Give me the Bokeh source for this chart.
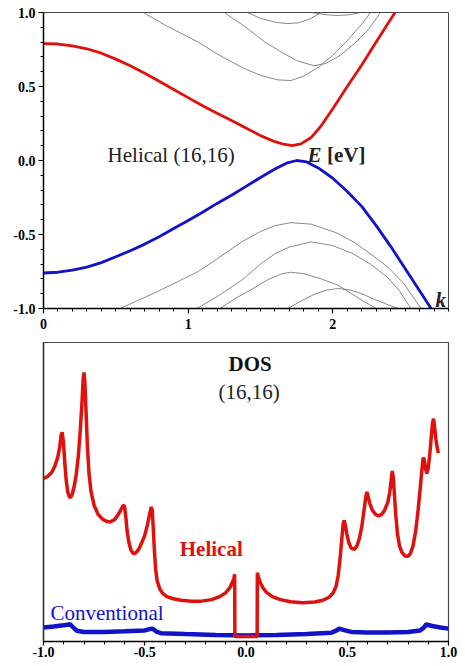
from bokeh.plotting import figure
from bokeh.layouts import column
from bokeh.models import FixedTicker, NumeralTickFormatter, Range1d, Label
from bokeh.embed import file_html
from bokeh.resources import INLINE

# ---------------- Band structure (top panel) ----------------
red_k = [0.0, 0.1, 0.2, 0.3, 0.4, 0.5, 0.6, 0.7, 0.8, 0.9, 1.0, 1.1, 1.2, 1.3, 1.4, 1.5,
         1.6, 1.66, 1.72, 1.78, 1.85, 1.92, 2.0, 2.1, 2.2, 2.3, 2.43]
red_E = [0.79, 0.787, 0.775, 0.755, 0.725, 0.685, 0.64, 0.59, 0.535, 0.48, 0.425, 0.37, 0.32,
         0.27, 0.22, 0.168, 0.127, 0.11, 0.10, 0.112, 0.155, 0.235, 0.35, 0.50, 0.645, 0.80, 1.0]

blue_k = [0.0, 0.1, 0.2, 0.3, 0.4, 0.5, 0.6, 0.7, 0.8, 0.9, 1.0, 1.1, 1.2, 1.3, 1.4, 1.5,
          1.6, 1.68, 1.75, 1.82, 1.9, 2.0, 2.1, 2.2, 2.3, 2.4, 2.5, 2.6, 2.68]
blue_E = [-0.76, -0.755, -0.74, -0.72, -0.69, -0.65, -0.61, -0.565, -0.515, -0.46, -0.405,
          -0.35, -0.29, -0.235, -0.175, -0.115, -0.058, -0.018, 0.0, -0.01, -0.05, -0.12,
          -0.21, -0.31, -0.44, -0.58, -0.73, -0.88, -1.0]

grayA_k = [0.69, 0.85, 1.07, 1.2, 1.37, 1.5, 1.62, 1.71, 1.8, 1.9, 2.0, 2.1, 2.2, 2.26]
grayA_E = [1.0, 0.91, 0.80, 0.72, 0.63, 0.575, 0.545, 0.54, 0.57, 0.63, 0.71, 0.81, 0.92, 1.0]
grayB_k = [1.25, 1.40, 1.53, 1.65, 1.75, 1.87, 1.95, 2.05, 2.15, 2.25, 2.33]
grayB_E = [1.0, 0.90, 0.80, 0.73, 0.675, 0.64, 0.655, 0.71, 0.79, 0.89, 1.0]
grayC_k = [1.41, 1.50, 1.60, 1.68, 1.76, 1.84, 1.92]
grayC_E = [1.0, 0.96, 0.935, 0.925, 0.93, 0.955, 1.0]
grayD_k = [1.85, 1.95, 2.03, 2.12, 2.19]
grayD_E = [1.0, 0.985, 0.98, 0.985, 1.0]

grayL1_k = [0.53, 0.8, 1.07, 1.2, 1.37, 1.5, 1.6, 1.71, 1.85, 2.03, 2.15, 2.26, 2.38, 2.49, 2.61]
grayL1_E = [-1.0, -0.88, -0.75, -0.665, -0.55, -0.48, -0.44, -0.42, -0.43, -0.49, -0.555,
            -0.63, -0.72, -0.83, -1.0]
grayL2_k = [1.06, 1.2, 1.37, 1.5, 1.6, 1.7, 1.85, 2.0, 2.14, 2.26, 2.38, 2.46, 2.54]
grayL2_E = [-1.0, -0.92, -0.81, -0.70, -0.63, -0.585, -0.55, -0.575, -0.63, -0.70, -0.79,
            -0.88, -1.0]
grayL3_k = [1.22, 1.33, 1.44, 1.55, 1.65, 1.71, 1.80, 1.92, 2.03, 2.13, 2.21, 2.30]
grayL3_E = [-1.0, -0.93, -0.87, -0.805, -0.765, -0.755, -0.765, -0.80, -0.84, -0.90, -0.95, -1.0]
grayL4_k = [1.69, 1.78, 1.87, 1.96, 2.04, 2.12, 2.2, 2.28, 2.37, 2.45]
grayL4_E = [-1.0, -0.95, -0.905, -0.875, -0.865, -0.875, -0.90, -0.935, -0.97, -1.0]

# ---------------- DOS (bottom panel) ----------------
hel_E = [-1.0, -0.98, -0.96, -0.945, -0.93, -0.92, -0.913, -0.908, -0.902, -0.895, -0.888,
         -0.88, -0.872, -0.865, -0.857, -0.848, -0.838, -0.828, -0.818, -0.81, -0.804, -0.80,
         -0.796, -0.79, -0.783, -0.775, -0.765, -0.75, -0.73, -0.71, -0.69, -0.67, -0.65,
         -0.635, -0.62, -0.607, -0.60, -0.594, -0.587, -0.578, -0.568, -0.556, -0.545, -0.53,
         -0.515, -0.50, -0.487, -0.476, -0.468, -0.463, -0.458, -0.452, -0.446, -0.438, -0.425,
         -0.41, -0.39, -0.36, -0.32, -0.27, -0.22, -0.17, -0.13, -0.10, -0.08, -0.068, -0.06,
         -0.056, -0.055, 0.055, 0.056, 0.062, 0.072, 0.085, 0.10, 0.13, 0.17, 0.22, 0.28, 0.34,
         0.38, 0.41, 0.43, 0.445, 0.455, 0.465, 0.474, 0.48, 0.485, 0.49, 0.498, 0.508, 0.52,
         0.535, 0.548, 0.56, 0.572, 0.583, 0.592, 0.597, 0.603, 0.612, 0.625, 0.64, 0.655, 0.67,
         0.685, 0.70, 0.71, 0.717, 0.722, 0.727, 0.733, 0.74, 0.748, 0.758, 0.77, 0.785, 0.80,
         0.812, 0.825, 0.838, 0.85, 0.86, 0.868, 0.875, 0.88, 0.886, 0.893, 0.90, 0.908, 0.915,
         0.921, 0.926, 0.931, 0.938, 0.945, 0.95]
hel_D = [54.5, 55.2, 56.5, 58.5, 61.5, 65, 69, 70, 67, 60, 54,
         50, 48.3, 48.2, 49.5, 52, 56, 62, 71, 80, 88, 90,
         87, 77, 65, 56, 50, 45.5, 42.5, 41, 40.2, 40, 40.7,
         42, 43.8, 45.5, 45.3, 42, 37, 33, 30.5, 29.4, 29.6, 30.8,
         33, 35.5, 39, 42.5, 45, 44, 38, 30, 24, 20, 17.5,
         16, 15, 14.3, 13.8, 13.5, 13.5, 14, 15, 16.3, 18, 19.7, 21,
         22.5, 1.7, 1.7, 23, 21.5, 19.5, 17.8, 16.5, 15, 14, 13.3, 13, 13.2,
         13.8, 14.8, 16.2, 18.5, 22, 28, 35, 39.5, 40.5, 39, 36, 33, 31.2,
         30.8, 32, 34.5, 38.5, 44, 48.5, 50, 48.5, 46, 43.8, 42.5, 42, 42.5,
         44, 46.5, 50, 54, 57, 55, 49, 42, 36, 32, 29.8, 28.6, 28.5,
         29.5, 32, 37, 44, 51, 57, 61.5, 61, 58, 56.2, 58, 63, 68.5,
         73, 74.5, 72, 67.5, 64.5, 63]

conv_E = [-1.0, -0.95, -0.90, -0.87, -0.855, -0.835, -0.80, -0.70, -0.60, -0.50, -0.465, -0.455,
          -0.44, -0.42, -0.30, -0.15, 0.0, 0.15, 0.30, 0.42, 0.45, 0.46, 0.48, 0.52, 0.60, 0.70,
          0.80, 0.86, 0.88, 0.89, 0.92, 0.96, 1.0]
conv_D = [4.7, 5.0, 5.4, 5.8, 4.8, 3.6, 3.2, 3.2, 3.4, 3.7, 4.3, 4.0,
          3.2, 2.8, 2.5, 2.2, 2.0, 2.2, 2.5, 2.9, 3.8, 4.3, 3.9, 3.2, 3.0, 3.0,
          3.2, 3.7, 4.8, 5.7, 5.2, 4.7, 4.3]

top_xticks = [0, 1, 2]
top_yticks = [-1.0, -0.5, 0.0, 0.5, 1.0]
bot_xticks = [-1.0, -0.5, 0.0, 0.5, 1.0]

SERIF = "Liberation Serif"
RED = "#e0100c"
BLUE = "#1212c8"


def style_axis(ax):
    ax.axis_line_width = 1.5
    ax.axis_line_color = "black"
    ax.major_tick_out = 5
    ax.major_tick_in = 0
    ax.minor_tick_out = 3
    ax.minor_tick_in = 0
    ax.major_tick_line_width = 1.2
    ax.minor_tick_line_width = 1
    ax.major_label_text_font = SERIF
    ax.major_label_text_font_style = "bold"
    ax.major_label_text_font_size = "14px"
    ax.major_label_text_color = "black"


# ---------- top figure ----------
p1 = figure(width=463, height=342, x_range=Range1d(0, 2.8), y_range=Range1d(-1, 1),
            output_backend="svg", toolbar_location=None,
            min_border_left=43, min_border_right=15, min_border_top=12, min_border_bottom=34)
p1.grid.visible = False
p1.outline_line_color = "#444444"
p1.outline_line_width = 1

p1.xaxis.ticker = FixedTicker(ticks=top_xticks, minor_ticks=[i / 10 for i in range(0, 29)])
p1.yaxis.ticker = FixedTicker(ticks=top_yticks, minor_ticks=[i / 10 for i in range(-10, 11)])
p1.yaxis.formatter = NumeralTickFormatter(format="0.0")
style_axis(p1.xaxis[0])
style_axis(p1.yaxis[0])
p1.xaxis.major_label_standoff = 5
p1.yaxis.major_label_standoff = 3

for kk, ee in [(grayA_k, grayA_E), (grayB_k, grayB_E), (grayC_k, grayC_E), (grayD_k, grayD_E),
               (grayL1_k, grayL1_E), (grayL2_k, grayL2_E), (grayL3_k, grayL3_E),
               (grayL4_k, grayL4_E)]:
    p1.line(kk, ee, line_color="#7a7a7a", line_width=0.9)

p1.line(red_k, red_E, line_color=RED, line_width=2.8)
p1.line(blue_k, blue_E, line_color=BLUE, line_width=2.8)

p1.add_layout(Label(x=0.443, y=0.034, text="Helical (16,16)", text_font=SERIF,
                    text_font_size="21px", text_baseline="alphabetic", text_color="#222222"))
p1.add_layout(Label(x=1.826, y=0.034, text="E", text_font=SERIF, text_font_style="bold italic",
                    text_font_size="21px", text_baseline="alphabetic", text_color="#222222"))
p1.add_layout(Label(x=1.96, y=0.034, text="[eV]", text_font=SERIF, text_font_style="bold",
                    text_font_size="21px", text_baseline="alphabetic", text_color="#222222"))
p1.add_layout(Label(x=2.71, y=-0.94, text="k", text_font=SERIF, text_font_style="bold italic",
                    text_font_size="21px", text_baseline="alphabetic", text_color="#222222"))

# ---------- bottom figure ----------
p2 = figure(width=463, height=324, x_range=Range1d(-1, 1), y_range=Range1d(0, 100),
            output_backend="svg", toolbar_location=None,
            min_border_left=42, min_border_right=11, min_border_top=0, min_border_bottom=25)
p2.grid.visible = False
p2.outline_line_color = "#444444"
p2.outline_line_width = 1.2
p2.xaxis.ticker = FixedTicker(ticks=bot_xticks, minor_ticks=[i / 10 for i in range(-10, 11)])
p2.xaxis.formatter = NumeralTickFormatter(format="0.0")
style_axis(p2.xaxis[0])
p2.xaxis[0].major_tick_out = 4
p2.xaxis.major_label_standoff = 1
p2.yaxis.ticker = FixedTicker(ticks=[])
p2.yaxis.axis_line_width = 1.5
p2.yaxis.axis_line_color = "#333333"
p2.yaxis.major_label_text_font_size = "0px"

p2.line(conv_E, conv_D, line_color=BLUE, line_width=4.5)
p2.line(hel_E, hel_D, line_color=RED, line_width=3.5)

p2.add_layout(Label(x=0.02, y=92.9, text="DOS", text_font=SERIF, text_font_style="bold",
                    text_font_size="21px", text_baseline="alphabetic", text_align="center",
                    text_color="#111111"))
p2.add_layout(Label(x=0.015, y=83.6, text="(16,16)", text_font=SERIF,
                    text_font_size="21px", text_baseline="alphabetic", text_align="center",
                    text_color="#222222"))
p2.add_layout(Label(x=-0.327, y=31.1, text="Helical", text_font=SERIF, text_font_style="bold",
                    text_font_size="21px", text_baseline="alphabetic", text_color=RED))
p2.add_layout(Label(x=-0.966, y=9.4, text="Conventional", text_font=SERIF,
                    text_font_size="21px", text_baseline="alphabetic", text_color=BLUE))

layout = column(p1, p2)
open("out.html", "w").write(file_html(layout, INLINE))
